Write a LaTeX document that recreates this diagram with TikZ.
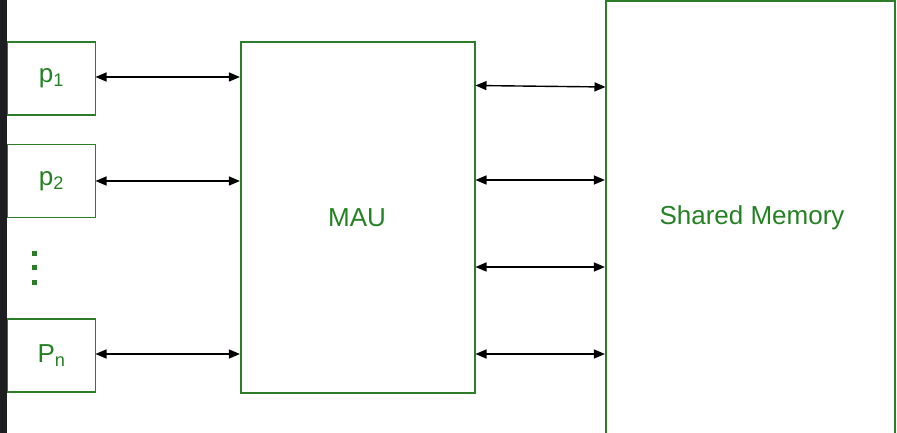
\documentclass[tikz,border=0pt]{standalone}
\usepackage{fontspec}
\setmainfont{Liberation Sans}
\usetikzlibrary{arrows.meta}
\definecolor{gline}{RGB}{45,125,40}
\definecolor{gtext}{RGB}{36,130,36}
\definecolor{darkstrip}{RGB}{30,30,34}
\tikzset{
  box/.style={draw=gline, line width=1.2pt, minimum width=88pt, minimum height=73pt, inner sep=0pt, text=gtext, font=\fontsize{26}{30}\selectfont},
  bigbox/.style={draw=gline, line width=1.2pt, inner sep=0pt},
  lbl/.style={text=gtext, font=\fontsize{26}{30}\selectfont},
  link/.style={line width=1.4pt, draw=black, {Triangle[length=11pt,width=9pt]}-{Triangle[length=11pt,width=9pt]}, shorten <=0.5pt, shorten >=0.5pt},
  dotsq/.style={fill=gline, minimum size=5pt, inner sep=0pt}
}
\begin{document}
\begin{tikzpicture}[x=1pt,y=-1pt]
\useasboundingbox (0,0) rectangle (897,433);
\clip (0,0) rectangle (897,433);
\fill[white] (0,0) rectangle (897,433);
\fill[darkstrip] (0,0) rectangle (7,433);
% processors
\node[box] (p1) at (51.5,78.5) {p\textsubscript{1}};
\node[box] (p2) at (51.5,181) {p\textsubscript{2}};
\node[box] (pn) at (51.5,355.5) {P\textsubscript{n}};
\node[dotsq] (d1) at (34,253) {};
\node[dotsq] (d2) at (34,267.5) {};
\node[dotsq] (d3) at (34,282) {};
% MAU
\node[bigbox, minimum width=234pt, minimum height=351pt] (mau) at (358,217.5) {};
\node[lbl] (maulabel) at (357,217.5) {MAU};
% Shared memory
\node[bigbox, minimum width=289pt, minimum height=460pt] (sm) at (750.5,231) {};
\node[lbl] (smlabel) at (752,218) {Shared Memory};
% left links
\coordinate (a1) at (95,77);
\coordinate (a2) at (95,181);
\coordinate (an) at (95,354);
\draw[link] (a1) -- (a1 -| mau.west);
\draw[link] (a2) -- (a2 -| mau.west);
\draw[link] (an) -- (an -| mau.west);
% right links
\coordinate (b1) at (475,85.5);
\coordinate (c1) at (606,87);
\coordinate (b2) at (475,180);
\coordinate (b3) at (475,267);
\coordinate (b4) at (475,354);
\draw[link] (b1) -- (c1);
\draw[link] (b2) -- (b2 -| sm.west);
\draw[link] (b3) -- (b3 -| sm.west);
\draw[link] (b4) -- (b4 -| sm.west);
\end{tikzpicture}
\end{document}
